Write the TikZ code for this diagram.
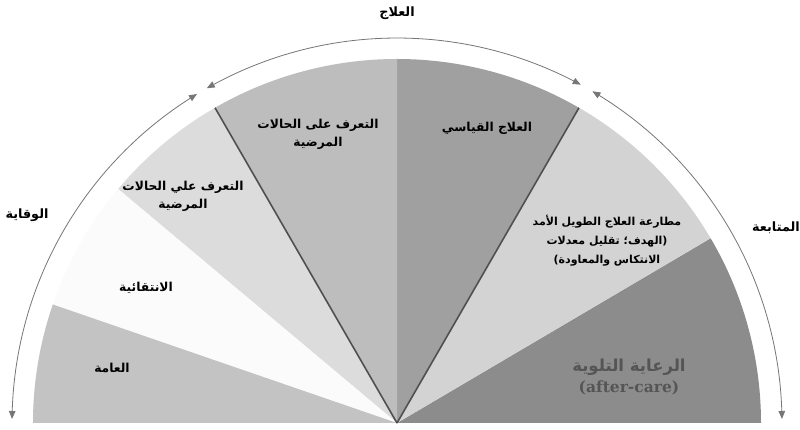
\documentclass[tikz,border=0pt]{standalone}
\usepackage{fontspec}
\setmainfont{Liberation Serif}
\newfontfamily\arfont[Script=Arabic]{DejaVu Sans}
\newfontfamily\enserif{DejaVu Serif}
\TeXXeTstate=1
\usetikzlibrary{arrows.meta,bending}
\definecolor{sA}{HTML}{8C8C8C}
\definecolor{sB}{HTML}{D3D3D3}
\definecolor{sC}{HTML}{A0A0A0}
\definecolor{sD}{HTML}{BDBDBD}
\definecolor{sE}{HTML}{DCDCDC}
\definecolor{sF}{HTML}{FBFBFB}
\definecolor{sG}{HTML}{C3C3C3}
\definecolor{divline}{HTML}{505050}
\definecolor{arcgray}{HTML}{767676}
\definecolor{aftertext}{HTML}{555555}
\tikzset{
  lbl/.style={font=\arfont\bfseries\fontsize{12.3}{18}\selectfont, align=center, text=black, inner sep=1pt},
  outer/.style={font=\arfont\bfseries\fontsize{12.8}{15}\selectfont, text=black, inner sep=1pt},
  rimarrow/.style={arcgray, line width=0.8pt, {Triangle[length=8pt,width=6.5pt,bend]}-{Triangle[length=8pt,width=6.5pt,bend]}},
  divider/.style={divline, line width=1.6pt},
}
\newcommand{\sector}[3]{\fill[#3] (0,0) -- (#1:364) arc[start angle=#1, end angle=#2, radius=364] -- cycle;}
\begin{document}
\begin{tikzpicture}[x=1pt,y=1pt]
\useasboundingbox (-397,-7) rectangle (403,423);
\fill[white] (-397,-7) rectangle (403,423);
\coordinate (c) at (0,0);
% sectors
\sector{0}{30.5}{sA}
\sector{30.5}{60}{sB}
\sector{60}{90}{sC}
\sector{90}{120}{sD}
\sector{120}{140}{sE}
\sector{140}{161}{sF}
\sector{161}{180}{sG}
% dividers
\coordinate (d60) at (60:364);
\coordinate (d120) at (120:364);
\draw[divider] (c) -- (d60);
\draw[divider] (c) -- (d120);
% rim arrows
\draw[rimarrow] (119.6:385) arc[start angle=119.6, end angle=61.5, radius=385];
\draw[rimarrow] (121.3:385) arc[start angle=121.3, end angle=179.4, radius=385];
\draw[rimarrow] (59.5:385) arc[start angle=59.5, end angle=0.6, radius=385];
% outer labels
\node[outer] (treat) at (0,410) {\beginR العلاج\endR};
\node[outer] (prev) at (-370,208) {\beginR الوقاية\endR};
\node[outer, anchor=east] (follow) at (404,195) {\beginR المتابعة\endR};
% sector labels
\node[lbl] (diag1) at (-79,289) {\beginR التعرف على الحالات\endR\\\beginR المرضية\endR};
\node[lbl] (diag2) at (-214,227) {\beginR التعرف علي الحالات\endR\\\beginR المرضية\endR};
\node[lbl] (std) at (90,295) {\beginR العلاج القياسي\endR};
\node[lbl, font=\arfont\bfseries\fontsize{11}{19}\selectfont] (long) at (210,182) {\beginR مطارعة العلاج الطويل الأمد\endR\\\beginR (الهدف؛ تقليل معدلات\endR\\\beginR الانتكاس والمعاودة)\endR};
\node[lbl] (sel) at (-251,135) {\beginR الانتقائية\endR};
\node[lbl] (gen) at (-285,55) {\beginR العامة\endR};
\node[lbl, text=aftertext, font=\arfont\bfseries\fontsize{16.5}{20}\selectfont] (after) at (232,56) {\beginR الرعاية التلوية\endR};
\node[text=aftertext, font=\enserif\bfseries\fontsize{15.5}{18}\selectfont, inner sep=1pt] (afteren) at (232,35) {(after-care)};
\end{tikzpicture}
\end{document}
